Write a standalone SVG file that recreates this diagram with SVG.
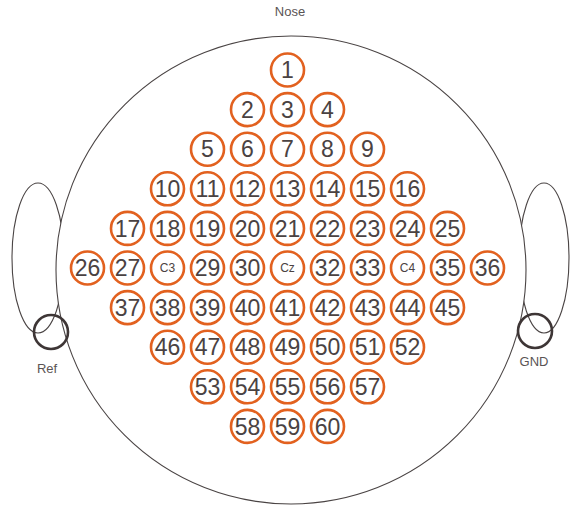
<svg xmlns="http://www.w3.org/2000/svg" width="570" height="506" viewBox="0 0 570 506">
<style>
.line{fill:none;stroke:#4a4444;stroke-width:1.1}
.head{fill:#fff;stroke:#4a4444;stroke-width:1.1}
.el{fill:#fff;stroke:#e2611f;stroke-width:2.6}
.n{font-family:"Liberation Sans",Arial,sans-serif;font-size:23px;fill:#4a4242;text-anchor:middle}
.s{font-family:"Liberation Sans",Arial,sans-serif;font-size:12px;fill:#4a4242;text-anchor:middle}
.lab{font-family:"Liberation Sans",Arial,sans-serif;font-size:13px;fill:#5a5454;text-anchor:middle}
.ring{fill:none;stroke:#3e3636;stroke-width:2.6}
</style>
<rect width="570" height="506" fill="#fff"/>
<g id="ears">
<ellipse class="line" cx="38" cy="258" rx="26" ry="75"/>
<ellipse class="line" cx="544" cy="258" rx="25" ry="75"/>
</g>
<g id="head"><ellipse class="head" cx="291" cy="270" rx="235" ry="234"/></g>
<g id="nose"><text class="lab" x="290" y="16">Nose</text></g>
<g id="ref"><circle class="ring" cx="51" cy="332" r="17"/><text class="lab" x="47" y="373">Ref</text></g>
<g id="gnd"><circle class="ring" cx="535" cy="331" r="17"/><text class="lab" x="534" y="366">GND</text></g>
<g id="e1"><circle class="el" cx="287.5" cy="70" r="16.5"/><text class="n" x="287.5" y="78.2">1</text></g>
<g id="e2"><circle class="el" cx="247.5" cy="109.6" r="16.5"/><text class="n" x="247.5" y="117.8">2</text></g>
<g id="e3"><circle class="el" cx="287.5" cy="109.6" r="16.5"/><text class="n" x="287.5" y="117.8">3</text></g>
<g id="e4"><circle class="el" cx="327.5" cy="109.6" r="16.5"/><text class="n" x="327.5" y="117.8">4</text></g>
<g id="e5"><circle class="el" cx="207.5" cy="149.2" r="16.5"/><text class="n" x="207.5" y="157.4">5</text></g>
<g id="e6"><circle class="el" cx="247.5" cy="149.2" r="16.5"/><text class="n" x="247.5" y="157.4">6</text></g>
<g id="e7"><circle class="el" cx="287.5" cy="149.2" r="16.5"/><text class="n" x="287.5" y="157.4">7</text></g>
<g id="e8"><circle class="el" cx="327.5" cy="149.2" r="16.5"/><text class="n" x="327.5" y="157.4">8</text></g>
<g id="e9"><circle class="el" cx="367.5" cy="149.2" r="16.5"/><text class="n" x="367.5" y="157.4">9</text></g>
<g id="e10"><circle class="el" cx="167.5" cy="188.8" r="16.5"/><text class="n" x="167.5" y="197">10</text></g>
<g id="e11"><circle class="el" cx="207.5" cy="188.8" r="16.5"/><text class="n" x="207.5" y="197">11</text></g>
<g id="e12"><circle class="el" cx="247.5" cy="188.8" r="16.5"/><text class="n" x="247.5" y="197">12</text></g>
<g id="e13"><circle class="el" cx="287.5" cy="188.8" r="16.5"/><text class="n" x="287.5" y="197">13</text></g>
<g id="e14"><circle class="el" cx="327.5" cy="188.8" r="16.5"/><text class="n" x="327.5" y="197">14</text></g>
<g id="e15"><circle class="el" cx="367.5" cy="188.8" r="16.5"/><text class="n" x="367.5" y="197">15</text></g>
<g id="e16"><circle class="el" cx="407.5" cy="188.8" r="16.5"/><text class="n" x="407.5" y="197">16</text></g>
<g id="e17"><circle class="el" cx="127.5" cy="228.4" r="16.5"/><text class="n" x="127.5" y="236.6">17</text></g>
<g id="e18"><circle class="el" cx="167.5" cy="228.4" r="16.5"/><text class="n" x="167.5" y="236.6">18</text></g>
<g id="e19"><circle class="el" cx="207.5" cy="228.4" r="16.5"/><text class="n" x="207.5" y="236.6">19</text></g>
<g id="e20"><circle class="el" cx="247.5" cy="228.4" r="16.5"/><text class="n" x="247.5" y="236.6">20</text></g>
<g id="e21"><circle class="el" cx="287.5" cy="228.4" r="16.5"/><text class="n" x="287.5" y="236.6">21</text></g>
<g id="e22"><circle class="el" cx="327.5" cy="228.4" r="16.5"/><text class="n" x="327.5" y="236.6">22</text></g>
<g id="e23"><circle class="el" cx="367.5" cy="228.4" r="16.5"/><text class="n" x="367.5" y="236.6">23</text></g>
<g id="e24"><circle class="el" cx="407.5" cy="228.4" r="16.5"/><text class="n" x="407.5" y="236.6">24</text></g>
<g id="e25"><circle class="el" cx="447.5" cy="228.4" r="16.5"/><text class="n" x="447.5" y="236.6">25</text></g>
<g id="e26"><circle class="el" cx="87.5" cy="268" r="16.5"/><text class="n" x="87.5" y="276.2">26</text></g>
<g id="e27"><circle class="el" cx="127.5" cy="268" r="16.5"/><text class="n" x="127.5" y="276.2">27</text></g>
<g id="eC3"><circle class="el" cx="167.5" cy="268" r="16.5"/><text class="s" x="167.5" y="272.3">C3</text></g>
<g id="e29"><circle class="el" cx="207.5" cy="268" r="16.5"/><text class="n" x="207.5" y="276.2">29</text></g>
<g id="e30"><circle class="el" cx="247.5" cy="268" r="16.5"/><text class="n" x="247.5" y="276.2">30</text></g>
<g id="eCz"><circle class="el" cx="287.5" cy="268" r="16.5"/><text class="s" x="287.5" y="272.3">Cz</text></g>
<g id="e32"><circle class="el" cx="327.5" cy="268" r="16.5"/><text class="n" x="327.5" y="276.2">32</text></g>
<g id="e33"><circle class="el" cx="367.5" cy="268" r="16.5"/><text class="n" x="367.5" y="276.2">33</text></g>
<g id="eC4"><circle class="el" cx="407.5" cy="268" r="16.5"/><text class="s" x="407.5" y="272.3">C4</text></g>
<g id="e35"><circle class="el" cx="447.5" cy="268" r="16.5"/><text class="n" x="447.5" y="276.2">35</text></g>
<g id="e36"><circle class="el" cx="487.5" cy="268" r="16.5"/><text class="n" x="487.5" y="276.2">36</text></g>
<g id="e37"><circle class="el" cx="127.5" cy="307.6" r="16.5"/><text class="n" x="127.5" y="315.8">37</text></g>
<g id="e38"><circle class="el" cx="167.5" cy="307.6" r="16.5"/><text class="n" x="167.5" y="315.8">38</text></g>
<g id="e39"><circle class="el" cx="207.5" cy="307.6" r="16.5"/><text class="n" x="207.5" y="315.8">39</text></g>
<g id="e40"><circle class="el" cx="247.5" cy="307.6" r="16.5"/><text class="n" x="247.5" y="315.8">40</text></g>
<g id="e41"><circle class="el" cx="287.5" cy="307.6" r="16.5"/><text class="n" x="287.5" y="315.8">41</text></g>
<g id="e42"><circle class="el" cx="327.5" cy="307.6" r="16.5"/><text class="n" x="327.5" y="315.8">42</text></g>
<g id="e43"><circle class="el" cx="367.5" cy="307.6" r="16.5"/><text class="n" x="367.5" y="315.8">43</text></g>
<g id="e44"><circle class="el" cx="407.5" cy="307.6" r="16.5"/><text class="n" x="407.5" y="315.8">44</text></g>
<g id="e45"><circle class="el" cx="447.5" cy="307.6" r="16.5"/><text class="n" x="447.5" y="315.8">45</text></g>
<g id="e46"><circle class="el" cx="167.5" cy="347.2" r="16.5"/><text class="n" x="167.5" y="355.4">46</text></g>
<g id="e47"><circle class="el" cx="207.5" cy="347.2" r="16.5"/><text class="n" x="207.5" y="355.4">47</text></g>
<g id="e48"><circle class="el" cx="247.5" cy="347.2" r="16.5"/><text class="n" x="247.5" y="355.4">48</text></g>
<g id="e49"><circle class="el" cx="287.5" cy="347.2" r="16.5"/><text class="n" x="287.5" y="355.4">49</text></g>
<g id="e50"><circle class="el" cx="327.5" cy="347.2" r="16.5"/><text class="n" x="327.5" y="355.4">50</text></g>
<g id="e51"><circle class="el" cx="367.5" cy="347.2" r="16.5"/><text class="n" x="367.5" y="355.4">51</text></g>
<g id="e52"><circle class="el" cx="407.5" cy="347.2" r="16.5"/><text class="n" x="407.5" y="355.4">52</text></g>
<g id="e53"><circle class="el" cx="207.5" cy="386.8" r="16.5"/><text class="n" x="207.5" y="395">53</text></g>
<g id="e54"><circle class="el" cx="247.5" cy="386.8" r="16.5"/><text class="n" x="247.5" y="395">54</text></g>
<g id="e55"><circle class="el" cx="287.5" cy="386.8" r="16.5"/><text class="n" x="287.5" y="395">55</text></g>
<g id="e56"><circle class="el" cx="327.5" cy="386.8" r="16.5"/><text class="n" x="327.5" y="395">56</text></g>
<g id="e57"><circle class="el" cx="367.5" cy="386.8" r="16.5"/><text class="n" x="367.5" y="395">57</text></g>
<g id="e58"><circle class="el" cx="247.5" cy="426.4" r="16.5"/><text class="n" x="247.5" y="434.6">58</text></g>
<g id="e59"><circle class="el" cx="287.5" cy="426.4" r="16.5"/><text class="n" x="287.5" y="434.6">59</text></g>
<g id="e60"><circle class="el" cx="327.5" cy="426.4" r="16.5"/><text class="n" x="327.5" y="434.6">60</text></g>
</svg>
